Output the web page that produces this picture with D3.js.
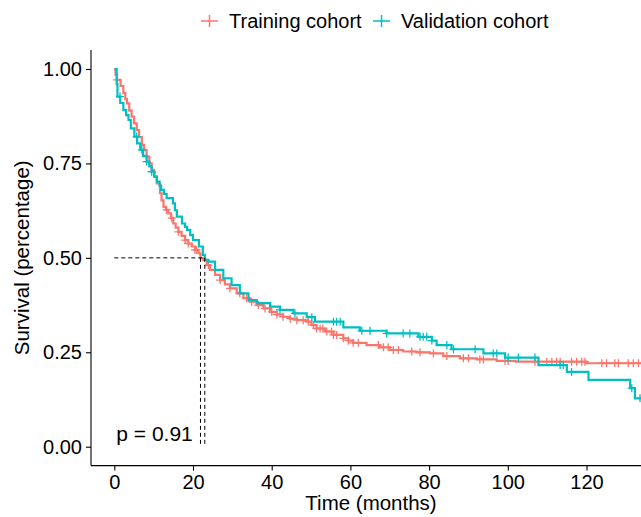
<!DOCTYPE html>
<html>
<head>
<meta charset="utf-8">
<script src="https://cdn.jsdelivr.net/npm/d3@7"></script>
<style>
  body { margin: 0; background: #fff; }
  svg { font-family: "Liberation Sans", Arial, sans-serif; }
</style>
</head>
<body>
<div id="chart"></div>
<script>
var groups = ["Training cohort", "Validation cohort"];
var colors = ["#F8766D", "#00BFC4"];

// step points (months, survival after the drop)
var trainTime = [0, 0.3, 0.7, 1.6, 2.3, 2.8, 3.2, 3.8, 4.4, 5.0, 5.7, 6.3, 7.0, 7.6, 8.2, 8.9, 9.5, 10.1, 10.8, 11.6, 12.0, 12.5, 13.1, 13.7, 14.4, 15.0, 15.6, 16.3, 17.1, 18.0, 18.8, 19.7, 20.5, 21.4, 21.9, 22.6, 23.5, 24.3, 25.6, 26.9, 28.1, 29.4, 31.1, 32.8, 34.5, 36.2, 37.9, 39.6, 41.3, 42.9, 44.6, 46.4, 48.9, 50.1, 51.4, 53.5, 55.7, 58.2, 59.5, 60.7, 64.1, 67.5, 70.0, 73.4, 76.8, 80.2, 83.6, 87.8, 92.1, 97.2, 102, 120, 140];
var trainSurv = [1.0, 0.985, 0.971, 0.955, 0.936, 0.92, 0.909, 0.89, 0.874, 0.856, 0.838, 0.82, 0.799, 0.785, 0.768, 0.75, 0.733, 0.715, 0.697, 0.671, 0.652, 0.635, 0.627, 0.618, 0.605, 0.591, 0.58, 0.569, 0.558, 0.547, 0.538, 0.53, 0.521, 0.512, 0.499, 0.494, 0.481, 0.468, 0.455, 0.441, 0.43, 0.419, 0.406, 0.393, 0.384, 0.375, 0.366, 0.357, 0.35, 0.344, 0.339, 0.335, 0.331, 0.322, 0.313, 0.305, 0.296, 0.287, 0.281, 0.275, 0.269, 0.263, 0.256, 0.252, 0.25, 0.247, 0.24, 0.234, 0.231, 0.227, 0.225, 0.221, 0.221];

var validTime = [0, 0.6, 0.8, 1.5, 2.3, 3.0, 3.6, 4.2, 5.1, 5.8, 6.6, 7.3, 8.2, 8.9, 9.5, 10.2, 10.8, 11.5, 11.9, 12.6, 13.3, 14.9, 15.4, 15.9, 17.2, 18.0, 18.5, 19.3, 20.0, 21.5, 22.5, 23.0, 23.9, 25.6, 27.7, 29.8, 31.9, 34.1, 36.2, 39.6, 42.1, 45.5, 48.9, 51.0, 58.2, 62.4, 69.2, 77.3, 80.7, 81.9, 85.7, 93.8, 99.3, 107.8, 115.0, 120.5, 131.1, 132.3, 140];
var validSurv = [1.0, 0.96, 0.927, 0.91, 0.891, 0.878, 0.865, 0.843, 0.821, 0.803, 0.786, 0.77, 0.755, 0.742, 0.728, 0.715, 0.702, 0.691, 0.68, 0.669, 0.658, 0.644, 0.626, 0.609, 0.591, 0.582, 0.574, 0.56, 0.547, 0.53, 0.508, 0.495, 0.49, 0.468, 0.446, 0.428, 0.406, 0.388, 0.38, 0.371, 0.362, 0.353, 0.343, 0.331, 0.316, 0.307, 0.3, 0.291, 0.281, 0.269, 0.258, 0.247, 0.236, 0.216, 0.198, 0.177, 0.155, 0.128, 0.128];

// censored times
var trainCensor = [0.7, 13.3, 14.6, 16.3, 18.0, 18.8, 20.5, 20.9, 23.9, 26.9, 29.4, 31.9, 33.6, 34.9, 36.6, 38.3, 40.0, 41.3, 42.9, 44.7, 46.4, 48.0, 49.3, 50.6, 51.4, 52.3, 53.0, 54.0, 55.2, 55.7, 56.5, 58.2, 59.5, 60.7, 62.0, 67.1, 68.4, 69.6, 70.9, 72.2, 75.6, 77.7, 81.1, 84.5, 88.7, 90.0, 92.9, 93.8, 99.3, 100.1, 106.9, 109.9, 111.2, 112.4, 113.3, 116.2, 117.5, 118.8, 119.6, 123.9, 125.1, 127.2, 128.1, 130.6, 131.9, 133.2];
var validCensor = [1.45, 5.7, 7.0, 8.2, 9.5, 42.1, 45.9, 50.2, 55.7, 56.5, 57.4, 62.9, 65.0, 69.2, 73.4, 75.1, 77.7, 78.5, 79.4, 80.7, 84.5, 86.2, 91.7, 96.3, 97.2, 100.1, 102.7, 106.9, 113.3, 114.1, 116.2, 131.5, 133.6];

var medians = [21.9, 23.0];
var pText = "p = 0.91";
var xTicks = [0, 20, 40, 60, 80, 100, 120];
var yTicks = [0, 0.25, 0.5, 0.75, 1];

var W = 641, H = 517;
var panelLeft = 91, panelTop = 50, panelBottom = 465.6;

var svg = d3.select("#chart").append("svg")
  .attr("width", W)
  .attr("height", H);

var x = d3.scaleLinear().domain([0, 120]).range([114.3, 586.5]);
var y = d3.scaleLinear().domain([0, 1]).range([446.7, 69]);

svg.append("defs").append("clipPath").attr("id", "panel")
  .append("rect")
  .attr("x", panelLeft).attr("y", panelTop)
  .attr("width", W - panelLeft + 40).attr("height", panelBottom - panelTop);

function survAt(times, surv, t) {
  var i = d3.bisectRight(times, t) - 1;
  return surv[Math.max(0, i)];
}

var panel = svg.append("g").attr("clip-path", "url(#panel)");

var series = [
  { time: trainTime, surv: trainSurv, censor: trainCensor },
  { time: validTime, surv: validSurv, censor: validCensor }
];

var line = d3.line()
  .x(function(d) { return x(d[0]); })
  .y(function(d) { return y(d[1]); })
  .curve(d3.curveStepAfter);

series.forEach(function(s, k) {
  panel.append("path")
    .datum(d3.zip(s.time, s.surv))
    .attr("fill", "none")
    .attr("stroke", colors[k])
    .attr("stroke-width", 2.2)
    .attr("d", line);

  panel.selectAll(null)
    .data(s.censor)
    .enter().append("path")
    .attr("transform", function(t) { return "translate(" + x(t) + "," + y(survAt(s.time, s.surv, t)) + ")"; })
    .attr("d", "M-4,0H4M0,-4V4")
    .attr("stroke", colors[k])
    .attr("stroke-width", 1.3);
});

// median lines
var med = d3.max(medians);
panel.append("line")
  .attr("x1", x(0)).attr("x2", x(med))
  .attr("y1", y(0.5)).attr("y2", y(0.5))
  .attr("stroke", "#000").attr("stroke-width", 1)
  .attr("stroke-dasharray", "4,3");

medians.forEach(function(m) {
  panel.append("line")
    .attr("x1", x(m)).attr("x2", x(m))
    .attr("y1", y(0.5)).attr("y2", y(0))
    .attr("stroke", "#000").attr("stroke-width", 1)
    .attr("stroke-dasharray", "4,3");
});

panel.append("text")
  .attr("x", x(0) + 2)
  .attr("y", 441)
  .attr("font-size", 21)
  .attr("fill", "#000")
  .text(pText);

// axes
var xAxis = svg.append("g")
  .attr("transform", "translate(0," + panelBottom + ")")
  .call(d3.axisBottom(x).tickValues(xTicks).tickSize(5).tickPadding(4).tickSizeOuter(0));
xAxis.select(".domain").attr("d", "M" + panelLeft + ",0H" + (W + 10));

var yAxis = svg.append("g")
  .attr("transform", "translate(" + panelLeft + ",0)")
  .call(d3.axisLeft(y).tickValues(yTicks).tickFormat(d3.format(".2f")).tickSize(5).tickPadding(4).tickSizeOuter(0));
yAxis.select(".domain").attr("d", "M0," + panelTop + "V" + panelBottom);

svg.selectAll(".tick text").attr("font-size", 20).attr("fill", "#000");
svg.selectAll(".domain, .tick line").attr("stroke", "#000").attr("stroke-width", 1.1);

svg.append("text")
  .attr("x", 371)
  .attr("y", 510)
  .attr("text-anchor", "middle")
  .attr("font-size", 20.5)
  .text("Time (months)");

svg.append("text")
  .attr("transform", "translate(29," + ((panelTop + panelBottom) / 2) + ") rotate(-90)")
  .attr("text-anchor", "middle")
  .attr("font-size", 20.5)
  .text("Survival (percentage)");

// legend
var legX = [201, 373];
groups.forEach(function(g, k) {
  var lg = svg.append("g").attr("transform", "translate(" + legX[k] + ",21)");
  lg.append("line").attr("x1", 0).attr("x2", 17).attr("stroke", colors[k]).attr("stroke-width", 1.5);
  lg.append("path").attr("d", "M8.5,-6V6").attr("stroke", colors[k]).attr("stroke-width", 1.5);
  lg.append("text").attr("x", 28).attr("y", 7).attr("font-size", 20).text(g);
});
</script>
</body>
</html>
